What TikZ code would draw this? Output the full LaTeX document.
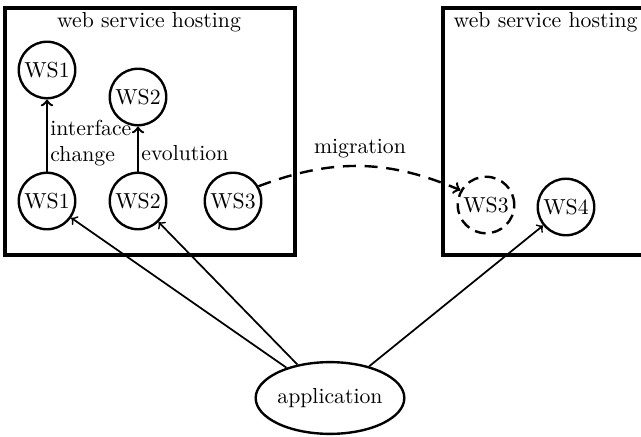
\documentclass[tikz,border=0pt]{standalone}
\usetikzlibrary{arrows}
\usetikzlibrary{fit}
\usetikzlibrary{shapes.geometric}

\begin{document}
\begin{tikzpicture}[x=0.46pt,y=-0.46pt,
    ws/.style={draw,circle,line width=1.1pt,inner sep=0pt,minimum size=26pt},
    host/.style={draw,rectangle,line width=1.6pt,inner sep=0pt}]

  \useasboundingbox (0,0) rectangle (641,437);

  % hosting boxes
  \coordinate (A_nw) at (5,8);
  \coordinate (A_se) at (295,255);
  \node [host,fit=(A_nw) (A_se)] (A) {};
  \node (Alab) at (149,22) {web service hosting};

  \coordinate (B_nw) at (443,8);
  \coordinate (B_se) at (660,255);
  \node [host,fit=(B_nw) (B_se)] (B) {};
  \node [anchor=west] (Blab) at (446,22) {web service hosting};

  % services
  \node [ws] (ws1_new) at (47,70) {WS1};
  \node [ws] (ws2_new) at (138,97) {WS2};
  \node [ws] (ws1) at (47,201) {WS1};
  \node [ws] (ws2) at (138,201) {WS2};
  \node [ws] (ws3) at (233,201) {WS3};
  \node [ws,dashed,dash pattern=on 5pt off 3pt] (ws3_moved) at (486,205) {WS3};
  \node [ws] (ws4) at (566,207) {WS4};

  \node [draw,ellipse,line width=1.1pt,inner sep=0pt,minimum width=60pt,minimum height=33pt] (app) at (330,398) {application};

  \path [draw,line width=1.1pt,->]
    (ws1) edge node [right,align=left,inner sep=1pt,pos=0.4] {interface\\change} (ws1_new)
    (ws2) edge node [right,inner sep=1pt,pos=0.4] {evolution} (ws2_new);

  \draw [line width=1.1pt,dash pattern=on 6pt off 4pt,->] (ws3.30) to [bend left=22] node [above] {migration} (ws3_moved.150);

  \path [draw,line width=0.8pt,->]
    (app) edge (ws1)
    (app) edge (ws2)
    (app) edge (ws4);

\end{tikzpicture}
\end{document}
